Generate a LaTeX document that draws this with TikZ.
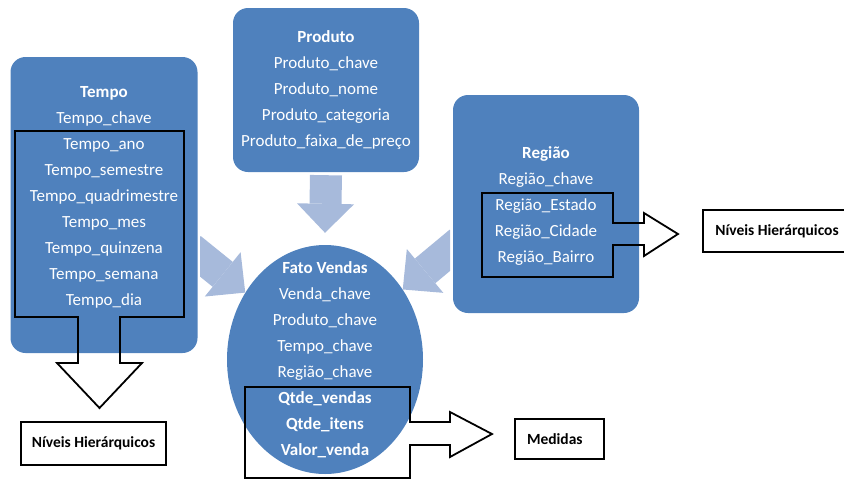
\documentclass[tikz,border=0pt]{standalone}
\usepackage{fontspec}
\setmainfont{Carlito}
\usetikzlibrary{arrows.meta,shapes.geometric,backgrounds,positioning}

\definecolor{boxblue}{HTML}{4F81BD}
\definecolor{flowblue}{HTML}{A7BADB}

\tikzset{
  dimbox/.style={fill=boxblue, rounded corners=15pt, inner sep=0pt},
  attr/.style={text=white, align=center, font=\fontsize{17}{26}\selectfont},
  flow/.style={draw=flowblue, line width=32pt, -{Triangle[width=57pt,length=29pt,line width=0pt]}},
  grp/.style={draw=black, line width=1.8pt, line join=miter},
  lbl/.style={draw=black, line width=1.2pt, inner sep=0pt, font=\bfseries\fontsize{15.5}{18}\selectfont}
}

\begin{document}
\begin{tikzpicture}[x=1pt, y=-1pt]
  \useasboundingbox (0,0) rectangle (844,480);

  % dimensoes
  \node [dimbox, minimum width=187pt, minimum height=296pt] (tempo) at (104,205) {};
  \node [dimbox, minimum width=186pt, minimum height=164pt] (produto) at (326,90) {};
  \node [dimbox, minimum width=186pt, minimum height=218pt] (regiao) at (546,204) {};
  \node [ellipse, fill=boxblue, inner sep=0pt, minimum width=196pt, minimum height=229pt] (fato) at (325,359.5) {};

  \node [attr] (tempotxt) at (104,197) {\textbf{Tempo}\\Tempo\_chave\\Tempo\_ano\\Tempo\_semestre\\Tempo\_quadrimestre\\Tempo\_mes\\Tempo\_quinzena\\Tempo\_semana\\Tempo\_dia};
  \node [attr] (produtotxt) at (326,90) {\textbf{Produto}\\Produto\_chave\\Produto\_nome\\Produto\_categoria\\Produto\_faixa\_de\_preço};
  \node [attr] (regiaotxt) at (546,205.5) {\textbf{Região}\\Região\_chave\\Região\_Estado\\Região\_Cidade\\Região\_Bairro};
  \node [attr] (fatotxt) at (325,360) {\textbf{Fato Vendas}\\Venda\_chave\\Produto\_chave\\Tempo\_chave\\Região\_chave\\\textbf{Qtde\_vendas}\\\textbf{Qtde\_itens}\\\textbf{Valor\_venda}};

  % setas claras
  \begin{scope}[on background layer]
    \clip (200,0) rectangle (450,480);
    \draw [flow] ([yshift=-3pt]produto.south) -- ([yshift=12pt]fato.north);
    \draw [flow] ([xshift=-7pt,yshift=-43.5pt]tempo.east) -- (fato.140);
    \draw [flow] ([xshift=7pt,yshift=-38pt]regiao.west) -- (fato.42);
  \end{scope}

  % niveis e medidas
  \node [lbl, minimum width=145pt, minimum height=43pt] (nivtempo) at (93.5,443.5) {Níveis Hierárquicos};
  \node [lbl, inner xsep=12pt, text width=65pt, align=left, minimum height=40pt] (medidas) at (559.5,439) {Medidas};
  \node [lbl, minimum width=148pt, minimum height=42pt] (nivregiao) at (777,231) {Níveis Hierárquicos};

  \draw [grp] (78,317) -- (15,317) -- (15,131) -- (184,131) -- (184,317) -- (120,317) -- (120,363)
    -- (142,363) -- (99.5,408) -- (57,363) -- (78,363) -- cycle;
  \draw [grp] (410,422) -- (410,387) -- (245,387) -- (245,478) -- (410,478) -- (410,445) -- (450,445)
    -- (450,457) -- (492,434) -- (450,412) -- (450,422) -- cycle;
  \draw [grp] (613,223) -- (613,193) -- (482,193) -- (482,277) -- (613,277) -- (613,245) -- (644,245)
    -- (644,256) -- (678,234) -- (644,213) -- (644,223) -- cycle;
\end{tikzpicture}
\end{document}
